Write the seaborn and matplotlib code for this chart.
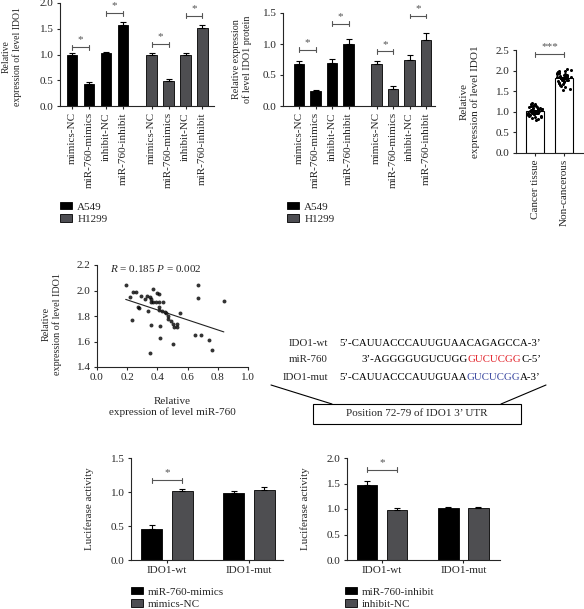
import numpy as np
import pandas as pd
import matplotlib
matplotlib.use("Agg")
import matplotlib.pyplot as plt
import seaborn as sns
from matplotlib.patches import Patch, Rectangle

# ---- data ----
conditions = ["mimics-NC", "miR-760-mimics", "inhibit-NC", "miR-760-inhibit"]
cell_lines = ["A549", "H1299"]

mrna_a549 = [1.00, 0.42, 1.03, 1.57]
mrna_a549_err = [0.02, 0.04, 0.02, 0.07]
mrna_h1299 = [1.00, 0.48, 1.00, 1.51]
mrna_h1299_err = [0.02, 0.05, 0.03, 0.06]

prot_a549 = [0.67, 0.24, 0.70, 1.00]
prot_a549_err = [0.05, 0.02, 0.06, 0.08]
prot_h1299 = [0.67, 0.28, 0.75, 1.07]
prot_h1299_err = [0.05, 0.04, 0.07, 0.11]

tissue_groups = ["Cancer tissue", "Non-cancerous"]
cancer_vals = [0.80, 0.83, 0.85, 0.87, 0.88, 0.90, 0.91, 0.92, 0.93, 0.94, 0.95, 0.95,
               0.96, 0.97, 0.97, 0.98, 0.98, 0.99, 1.00, 1.00, 1.01, 1.01, 1.02, 1.02,
               1.03, 1.03, 1.04, 1.05, 1.05, 1.06, 1.07, 1.08, 1.08, 1.09, 1.10, 1.11,
               1.12, 1.13, 1.14, 1.15, 1.17, 1.18, 1.20, 1.22]
noncancer_vals = [1.52, 1.56, 1.60, 1.63, 1.66, 1.68, 1.70, 1.71, 1.72, 1.74, 1.75, 1.76,
                  1.77, 1.78, 1.78, 1.79, 1.80, 1.80, 1.81, 1.82, 1.82, 1.83, 1.84, 1.85,
                  1.85, 1.86, 1.87, 1.88, 1.89, 1.90, 1.91, 1.92, 1.93, 1.94, 1.95, 1.96,
                  1.97, 1.98, 2.00, 2.02, 2.04]

mir760 = [0.19, 0.22, 0.24, 0.26, 0.23, 0.29, 0.27, 0.28, 0.32, 0.33, 0.34, 0.35, 0.36,
          0.36, 0.37, 0.37, 0.39, 0.40, 0.41, 0.41, 0.41, 0.41, 0.44, 0.43, 0.45, 0.46,
          0.47, 0.47, 0.49, 0.50, 0.51, 0.53, 0.53, 0.55, 0.36, 0.42, 0.42, 0.35, 0.50,
          0.65, 0.69, 0.74, 0.67, 0.67, 0.84, 0.76]
ido1 = [2.04, 1.95, 1.99, 1.99, 1.77, 1.96, 1.87, 1.86, 1.93, 1.96, 1.84, 1.95, 1.93,
        1.91, 2.01, 1.91, 1.91, 1.98, 1.97, 1.91, 1.87, 1.85, 1.91, 1.84, 1.83, 1.82,
        1.80, 1.78, 1.76, 1.74, 1.71, 1.74, 1.71, 1.82, 1.73, 1.72, 1.63, 1.51, 1.58,
        1.65, 1.65, 1.61, 2.04, 1.94, 1.92, 1.53]

constructs = ["IDO1-wt", "IDO1-mut"]
mimic_groups = ["miR-760-mimics", "mimics-NC"]
luc_mimics = [0.46, 0.99]
luc_mimics_err = [0.06, 0.02]
luc_mimics_nc = [1.02, 1.03]
luc_mimics_nc_err = [0.02, 0.04]

inhibit_groups = ["miR-760-inhibit", "inhibit-NC"]
luc_inhibit = [1.48, 1.01]
luc_inhibit_err = [0.06, 0.03]
luc_inhibit_nc = [0.99, 1.01]
luc_inhibit_nc_err = [0.03, 0.03]

# ---- style ----
sns.set_style("ticks")
plt.rcParams["font.family"] = ["Liberation Serif", "DejaVu Serif"]
plt.rcParams["mathtext.fontset"] = "custom"
plt.rcParams["mathtext.it"] = "Liberation Serif:italic"
plt.rcParams["mathtext.rm"] = "Liberation Serif"
plt.rcParams["font.size"] = 8
plt.rcParams["axes.linewidth"] = 0.8
plt.rcParams["xtick.major.width"] = 0.8
plt.rcParams["ytick.major.width"] = 0.8
plt.rcParams["xtick.major.size"] = 2.5
plt.rcParams["ytick.major.size"] = 2.5
plt.rcParams["xtick.major.pad"] = 2
plt.rcParams["ytick.major.pad"] = 2

FS = 8
BLACK = "#000000"
GREY = "#4d4d52"
BRK = "#555555"
W, H = 584, 609

fig = plt.figure(figsize=(W / 100, H / 100), dpi=100)

# overlay in pixel coords for the sequence diagram
ov = fig.add_axes([0, 0, 1, 1])
ov.set_xlim(0, W)
ov.set_ylim(H, 0)
ov.axis("off")


def px_axes(left, top, right, bottom):
    return fig.add_axes([left / W, 1 - bottom / H, (right - left) / W, (bottom - top) / H])


def bracket(ax, x1, x2, y, label="*", d=None):
    ylo, yhi = ax.get_ylim()
    d = (yhi - ylo) * 0.025 if d is None else d
    ax.plot([x1, x2], [y, y], color=BRK, lw=0.8, clip_on=False)
    ax.plot([x1, x1], [y - d, y + d], color=BRK, lw=0.8, clip_on=False)
    ax.plot([x2, x2], [y - d, y + d], color=BRK, lw=0.8, clip_on=False)
    ax.text((x1 + x2) / 2, y + d * 1.2, label, ha="center", va="bottom",
            fontsize=FS, color=BRK, clip_on=False)


def yticks(ax, vals):
    ax.set_yticks(vals)
    ax.set_yticklabels([f"{v:.1f}" for v in vals])


def legend(ax, labels, colors, x, y):
    handles = [Patch(facecolor=c, edgecolor="black", lw=0.6, label=l) for l, c in zip(labels, colors)]
    ax.legend(handles=handles, loc="upper left", bbox_to_anchor=(x / W, 1 - y / H),
              bbox_transform=fig.transFigure, frameon=False, handlelength=1.05,
              handleheight=0.65, handletextpad=0.5, labelspacing=0.25,
              borderpad=0, borderaxespad=0, fontsize=FS)


# ---- panels A and B: grouped by cell line ----
pos = [i for i in range(4)] + [4.7 + i for i in range(4)]


def cell_panel(ax, a549, a549_err, h1299, h1299_err, ymax, brk, xlim):
    df = pd.DataFrame({"pos": pos, "value": a549 + h1299,
                       "cell": ["A549"] * 4 + ["H1299"] * 4})
    sns.barplot(data=df, x="pos", y="value", hue="cell", native_scale=True,
                palette={"A549": BLACK, "H1299": GREY}, width=0.62,
                edgecolor="black", linewidth=0.6, errorbar=None, legend=False, ax=ax)
    ax.errorbar(pos, a549 + h1299, yerr=[np.zeros(8), a549_err + h1299_err], fmt="none",
                ecolor="black", elinewidth=0.8, capsize=2.2, capthick=0.8)
    ax.set_ylim(0, ymax)
    ax.set_xlim(*xlim)
    ax.set_xticks(pos)
    ax.set_xticklabels(conditions * 2, rotation=90)
    ax.set_xlabel("")
    sns.despine(ax=ax)
    for (i, j, h) in brk:
        bracket(ax, pos[i], pos[j], h)


axA = px_axes(60, 3, 214, 106)
cell_panel(axA, mrna_a549, mrna_a549_err, mrna_h1299, mrna_h1299_err, 2.0,
           [(0, 1, 1.14), (2, 3, 1.80), (4, 5, 1.20), (6, 7, 1.75)], (-0.71, 8.38))
yticks(axA, [0, 0.5, 1.0, 1.5, 2.0])
axA.set_ylabel("Relative\nexpression of level IDO1", fontsize=7)
axA.yaxis.set_label_coords(-0.247, 0.48)
legend(axA, cell_lines, [BLACK, GREY], 60, 202)

axB = px_axes(283, 13, 435, 106)
cell_panel(axB, prot_a549, prot_a549_err, prot_h1299, prot_h1299_err, 1.5,
           [(0, 1, 0.91), (2, 3, 1.33), (4, 5, 0.88), (6, 7, 1.45)], (-0.97, 8.24))
yticks(axB, [0, 0.5, 1.0, 1.5])
axB.set_ylabel("Relative expression\nof level IDO1 protein", fontsize=7.3)
axB.yaxis.set_label_coords(-0.204, 0.5)
legend(axB, cell_lines, [BLACK, GREY], 287, 202)

# ---- panel C: tissue ----
axC = px_axes(516, 50, 583, 153)
dfC = pd.DataFrame({"group": ["Cancer tissue"] * len(cancer_vals) + ["Non-cancerous"] * len(noncancer_vals),
                    "value": cancer_vals + noncancer_vals})
sns.barplot(data=dfC, x="group", y="value", order=tissue_groups, color="white",
            edgecolor="black", linewidth=0.8, width=0.62, errorbar="se", capsize=0.3,
            err_kws={"color": "black", "linewidth": 0.8}, ax=axC)
np.random.seed(3)
sns.stripplot(data=dfC, x="group", y="value", order=tissue_groups, color="black",
              size=2.2, jitter=0.27, ax=axC)
axC.set_ylim(0, 2.5)
axC.set_xlim(-0.66, 1.66)
yticks(axC, [0, 0.5, 1.0, 1.5, 2.0, 2.5])
axC.set_xticks([0, 1])
axC.set_xticklabels(tissue_groups, rotation=90)
axC.set_xlabel("")
axC.set_ylabel("Relative\nexpression of level IDO1")
axC.yaxis.set_label_coords(-0.537, 0.5)
sns.despine(ax=axC)
bracket(axC, 0, 1, 2.40, "***")

# ---- panel D: correlation ----
axD = px_axes(97, 265, 248, 367)
sns.regplot(x=mir760, y=ido1, ci=None, color="black", ax=axD,
            scatter_kws={"s": 8, "linewidths": 0},
            line_kws={"lw": 0.8, "color": "#222222"})
axD.set_xlim(0, 1.0)
axD.set_ylim(1.4, 2.2)
axD.set_xticks([0, 0.2, 0.4, 0.6, 0.8, 1.0])
axD.set_xticklabels(["0.0", "0.2", "0.4", "0.6", "0.8", "1.0"])
yticks(axD, [1.4, 1.6, 1.8, 2.0, 2.2])
axD.text(0.086, 2.17, "$R$ = 0.185 $P$ = 0.002", ha="left", va="center", fontsize=FS)
axD.set_xlabel("Relative\nexpression of level miR-760")
axD.xaxis.set_label_coords(0.5, -0.29)
axD.set_ylabel("Relative\nexpression of level IDO1", fontsize=7.3)
axD.yaxis.set_label_coords(-0.232, 0.42)
sns.despine(ax=axD)

# ---- panel E: binding site diagram ----
SEQ_FS = 7.8
rows = [
    ("IDO1-wt", 344, [("5’-CAUUACCCAUUGUAACAGAGCCA-3’", "black")]),
    ("miR-760", 360, [("3’-AGGGGUGUCUGG", "black"), ("GUCUCGG", "#e3232b"), ("C-5’", "black")]),
    ("IDO1-mut", 378, [("5’-CAUUACCCAUUGUAA", "black"), ("GUCUCGG", "#3a48a0"), ("A-3’", "black")]),
]
for name, y, segs in rows:
    ov.text(328, y, name, ha="right", va="center", fontsize=SEQ_FS)
    prev = ov.text(541, y, segs[-1][0], color=segs[-1][1], ha="right", va="center", fontsize=SEQ_FS)
    for txt, col in reversed(segs[:-1]):
        prev = ov.annotate(txt, xy=(0, 0), xycoords=prev, ha="right", va="bottom",
                           color=col, fontsize=SEQ_FS)
ov.plot([271, 332], [385, 404], color="black", lw=0.8)
ov.plot([546, 501], [385, 404], color="black", lw=0.8)
ov.add_patch(Rectangle((313, 404), 208, 20, fill=False, lw=0.8, edgecolor="black"))
ov.text(417, 414, "Position 72-79 of IDO1 3’ UTR", ha="center", va="center", fontsize=FS)


# ---- panels F and G: luciferase ----
def luc_panel(ax, groups, v1, e1, v2, e2, ymax, brk_y, xlim):
    df = pd.DataFrame({"construct": constructs * 2,
                       "treat": [groups[0]] * 2 + [groups[1]] * 2,
                       "value": v1 + v2})
    sns.barplot(data=df, x="construct", y="value", hue="treat", hue_order=groups,
                order=constructs, palette=[BLACK, GREY], width=0.74, gap=0.31,
                edgecolor="black", linewidth=0.6, errorbar=None, legend=False, ax=ax)
    off = 0.74 / 4
    xs = [0 - off, 1 - off, 0 + off, 1 + off]
    ax.errorbar(xs, v1 + v2, yerr=[np.zeros(4), e1 + e2], fmt="none",
                ecolor="black", elinewidth=0.8, capsize=2.2, capthick=0.8)
    ax.set_ylim(0, ymax)
    ax.set_xlim(*xlim)
    yticks(ax, list(np.arange(0, ymax + 0.01, 0.5)))
    ax.set_xlabel("")
    ax.set_ylabel("Luciferase activity")
    ax.yaxis.set_label_coords(-0.243, 0.5)
    sns.despine(ax=ax)
    bracket(ax, -off, off, brk_y)


axF = px_axes(131, 458, 283, 560)
luc_panel(axF, mimic_groups, luc_mimics, luc_mimics_err, luc_mimics_nc, luc_mimics_nc_err,
          1.5, 1.17, (-0.44, 1.415))
legend(axF, mimic_groups, [BLACK, GREY], 131, 587)

axG = px_axes(347, 458, 500, 560)
luc_panel(axG, inhibit_groups, luc_inhibit, luc_inhibit_err, luc_inhibit_nc, luc_inhibit_nc_err,
          2.0, 1.77, (-0.43, 1.45))
legend(axG, inhibit_groups, [BLACK, GREY], 345, 587)

fig.savefig("out.png", dpi=100)
